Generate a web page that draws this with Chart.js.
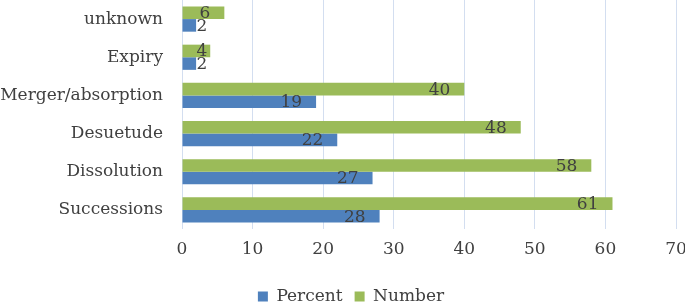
<!DOCTYPE html>
<html lang="en">
<head>
    <meta charset="UTF-8">
    <title>Dissolution causes</title>
    <script src="https://cdn.jsdelivr.net/npm/chart.js"></script>
    <style>
        body { margin: 0; overflow: hidden; background: #fff; }
        /* a bit taller than the window so the legend gets cut like the original */
        .chartBox { width: 685px; height: 315px; }
    </style>
</head>
<body>
    <div class="chartBox">
        <canvas id="causesChart"></canvas>
    </div>
    <script>
        // values
        const categories = ['unknown', 'Expiry', 'Merger/absorption', 'Desuetude', 'Dissolution', 'Successions'];
        const percentVals = [2, 2, 19, 22, 27, 28];
        const numberVals = [6, 4, 40, 48, 58, 61];
        const xTicks = [0, 10, 20, 30, 40, 50, 60, 70];

        const fontFamily = '"DejaVu Serif", serif';
        const textColor = '#404040';

        // value labels near the end of each bar (pushed right on very short bars)
        const barValues = {
            id: 'barValues',
            afterLayout(chart) {
                // legend sits a little right of centre in the original
                chart.legend.left += 13;
                chart.legend.right += 13;
            },
            afterDatasetsDraw(chart) {
                const ctx = chart.ctx;
                ctx.save();
                ctx.font = '17px ' + fontFamily;
                ctx.fillStyle = textColor;
                ctx.textAlign = 'right';
                ctx.textBaseline = 'middle';
                chart.data.datasets.forEach((ds, i) => {
                    const meta = chart.getDatasetMeta(i);
                    meta.data.forEach((bar, j) => {
                        const txt = String(ds.data[j]);
                        const w = ctx.measureText(txt).width;
                        const xr = Math.max(bar.x - 14, bar.base + 14 + w);
                        ctx.fillText(txt, xr, bar.y + 1);
                    });
                });
                ctx.restore();
            }
        };

        const ctx = document.getElementById('causesChart').getContext('2d');
        new Chart(ctx, {
            type: 'bar',
            data: {
                labels: categories,
                datasets: [{
                    label: 'Number',
                    data: numberVals,
                    backgroundColor: '#9bbb59'
                }, {
                    label: 'Percent',
                    data: percentVals,
                    backgroundColor: '#4f81bd'
                }]
            },
            options: {
                indexAxis: 'y',
                responsive: true,
                maintainAspectRatio: false,
                animation: false,
                datasets: {
                    bar: { categoryPercentage: 0.66, barPercentage: 1 }
                },
                layout: { padding: { top: 0, right: 9, left: 0, bottom: 0 } },
                plugins: {
                    legend: {
                        position: 'bottom',
                        reverse: true,
                        labels: {
                            boxWidth: 10,
                            boxHeight: 10,
                            color: textColor,
                            font: { family: fontFamily, size: 17 },
                            padding: 12
                        }
                    },
                    tooltip: { enabled: false }
                },
                scales: {
                    x: {
                        min: 0,
                        max: 70,
                        afterBuildTicks: (scale) => { scale.ticks = xTicks.map(v => ({ value: v })); },
                        grid: { color: '#d3def0', drawTicks: false },
                        border: { display: false },
                        ticks: { color: textColor, font: { family: fontFamily, size: 17 }, padding: 10 },
                        afterFit: (scale) => {
                            scale.height = 47;
                            scale.paddingLeft = 0;
                            scale.paddingRight = 0;
                        }
                    },
                    y: {
                        grid: { display: false, drawTicks: false },
                        border: { display: false },
                        ticks: { color: textColor, font: { family: fontFamily, size: 17 }, padding: 19 },
                        afterFit: (scale) => {
                            scale.width = 182;
                            scale.paddingTop = 0;
                            scale.paddingBottom = 0;
                        }
                    }
                }
            },
            plugins: [barValues]
        });
    </script>
</body>
</html>
